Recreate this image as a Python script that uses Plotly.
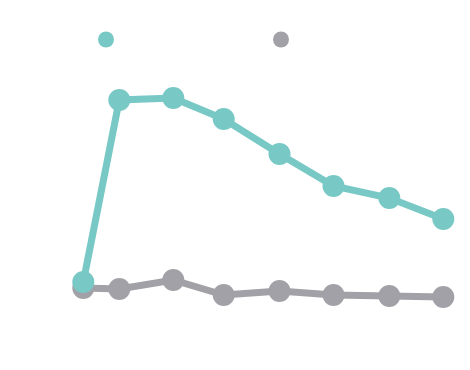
import plotly.graph_objects as go

x_vals = [0, 2, 5, 7.8, 10.9, 13.9, 17, 20]
teal_vals = [88, 270, 272, 251, 216, 184, 172, 151]
gray_vals = [82, 81, 90, 75, 79, 75, 74, 73]
series_names = ["", ""]

TEAL = "#78C8C6"
GRAY = "#A1A1A7"

fig = go.Figure()
fig.add_trace(go.Scatter(x=x_vals, y=gray_vals, mode="lines+markers",
                         line=dict(color=GRAY, width=7),
                         marker=dict(color=GRAY, size=22), showlegend=False))
fig.add_trace(go.Scatter(x=x_vals, y=teal_vals, mode="lines+markers",
                         line=dict(color=TEAL, width=7),
                         marker=dict(color=TEAL, size=22), showlegend=False))
# legend-only entries
fig.add_trace(go.Scatter(x=[None], y=[None], mode="markers", name=series_names[0],
                         marker=dict(color=TEAL, size=16), showlegend=True))
fig.add_trace(go.Scatter(x=[None], y=[None], mode="markers", name=series_names[1],
                         marker=dict(color=GRAY, size=16), showlegend=True))

fig.update_layout(
    width=470, height=370,
    margin=dict(l=0, r=0, t=0, b=0),
    paper_bgcolor="white", plot_bgcolor="white",
    xaxis=dict(range=[-75.3/18, (470-75.3)/18], visible=False),
    yaxis=dict(range=[-8, 362], visible=False),
    legend=dict(orientation="h", x=78/470, y=1-17/370, xanchor="left", yanchor="top",
                entrywidth=130, entrywidthmode="pixels", traceorder="normal",
                bgcolor="rgba(0,0,0,0)"),
)
fig.write_html("out.html")
